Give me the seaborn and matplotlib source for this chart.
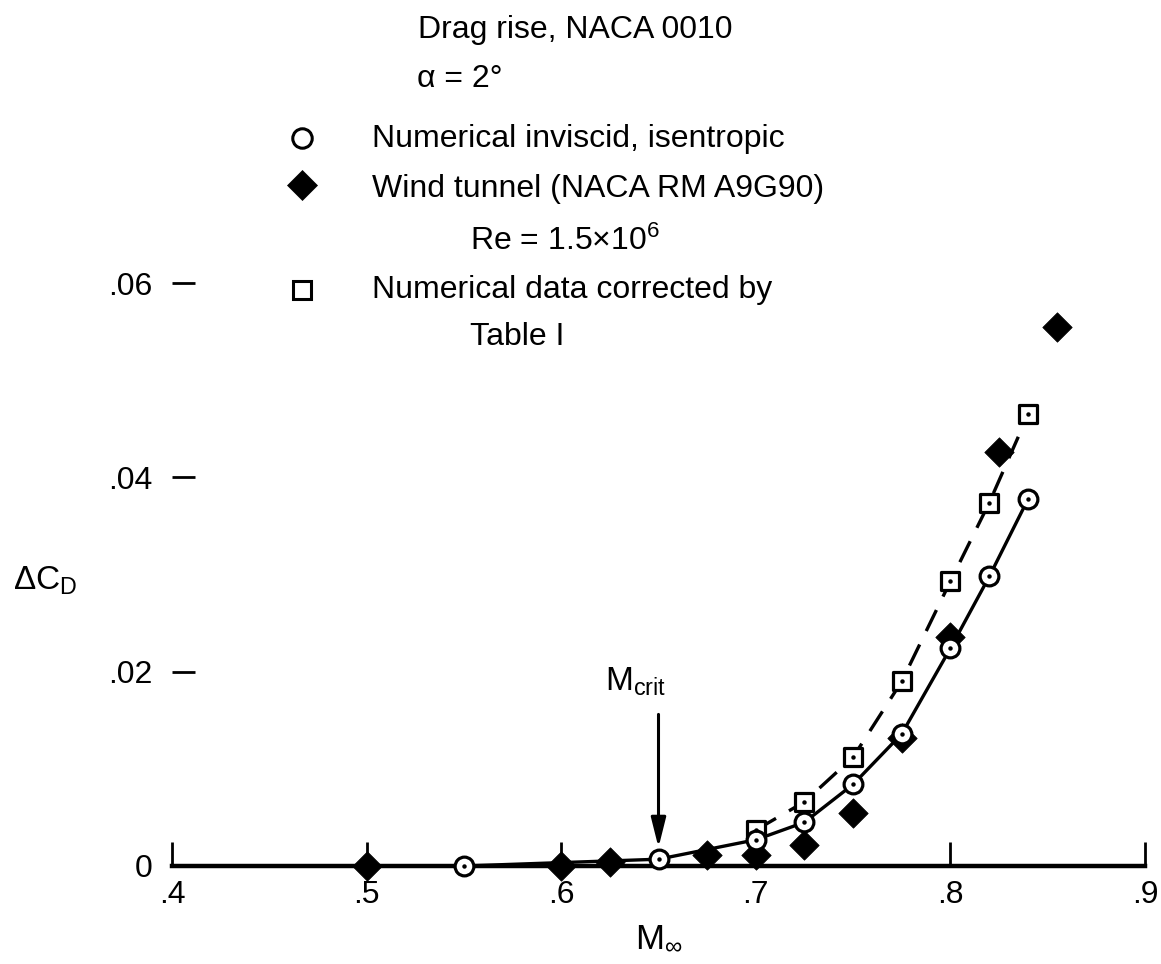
import matplotlib
matplotlib.use("Agg")
import matplotlib.pyplot as plt
from matplotlib.lines import Line2D
import numpy as np
import pandas as pd
import seaborn as sns

# ---- data ----
circ_x = [0.55, 0.65, 0.70, 0.725, 0.75, 0.775, 0.80, 0.82, 0.84]
circ_y = [0.0, 0.0007, 0.0027, 0.0045, 0.0084, 0.0136, 0.0224, 0.0298, 0.0378]

diam_x = [0.50, 0.60, 0.625, 0.675, 0.70, 0.725, 0.75, 0.775, 0.80, 0.825, 0.855]
diam_y = [0.0, 0.0, 0.0004, 0.0011, 0.0011, 0.0022, 0.0055, 0.0132, 0.0236, 0.0426, 0.0555]

sq_x = [0.70, 0.725, 0.75, 0.775, 0.80, 0.82, 0.84]
sq_y = [0.0037, 0.0066, 0.0112, 0.0190, 0.0293, 0.0374, 0.0465]

x_ticks = [0.4, 0.5, 0.6, 0.7, 0.8, 0.9]
x_tick_labels = [".4", ".5", ".6", ".7", ".8", ".9"]
y_ticks = [0.0, 0.02, 0.04, 0.06]
y_tick_labels = ["0", ".02", ".04", ".06"]

m_crit = 0.65

# ---- style ----
sns.set_theme(style="white")
plt.rcParams["font.family"] = ["Liberation Sans", "DejaVu Sans"]
plt.rcParams["mathtext.fontset"] = "custom"
plt.rcParams["mathtext.rm"] = "Liberation Sans"
plt.rcParams["mathtext.it"] = "Liberation Sans"
plt.rcParams["mathtext.default"] = "rm"
FS = 23
K = "black"

fig = plt.figure(figsize=(11.61, 9.64), dpi=100)
ax = fig.add_axes([0.14815, 0.10166, 0.83807, 0.60477])

circ = pd.DataFrame({"M": circ_x, "dCD": circ_y})
diam = pd.DataFrame({"M": diam_x, "dCD": diam_y})
sq = pd.DataFrame({"M": sq_x, "dCD": sq_y})

# curves
sns.lineplot(data=circ, x="M", y="dCD", ax=ax, color=K, lw=2.4,
             estimator=None, sort=True, zorder=2.6)
sns.lineplot(data=sq, x="M", y="dCD", ax=ax, color=K, lw=2.4,
             estimator=None, sort=True, linestyle=(0, (7, 4.5)), zorder=2.6)

# markers
sns.scatterplot(data=diam, x="M", y="dCD", ax=ax, marker="D", s=15**2,
                color=K, edgecolor=K, linewidth=0.5, zorder=3, clip_on=False)
sns.scatterplot(data=sq, x="M", y="dCD", ax=ax, marker="s", s=13.5**2,
                facecolor="white", edgecolor=K, linewidth=2.3, zorder=4, clip_on=False)
sns.scatterplot(data=circ, x="M", y="dCD", ax=ax, marker="o", s=13.5**2,
                facecolor="white", edgecolor=K, linewidth=2.3, zorder=5, clip_on=False)
sns.scatterplot(data=sq, x="M", y="dCD", ax=ax, marker="o", s=3.2**2,
                color=K, linewidth=0, zorder=6, clip_on=False)
sns.scatterplot(data=circ, x="M", y="dCD", ax=ax, marker="o", s=3.2**2,
                color=K, linewidth=0, zorder=6, clip_on=False)

# axes
ax.set_xlim(0.4, 0.9)
ax.set_ylim(0.0, 0.06)
ax.set_xticks(x_ticks)
ax.set_xticklabels(x_tick_labels)
ax.set_yticks(y_ticks)
ax.set_yticklabels(y_tick_labels)
sns.despine(ax=ax, left=True)
ax.spines["bottom"].set_linewidth(3.2)
ax.spines["bottom"].set_color(K)
ax.spines["bottom"].set_zorder(2.5)
ax.tick_params(axis="x", bottom=True, direction="in", length=17, width=2.0,
               pad=10, labelsize=FS, colors=K)
ax.tick_params(axis="y", left=True, direction="in", length=16.5, width=2.0,
               pad=14, labelsize=FS, colors=K)
ax.grid(False)

ax.set_xlabel(r"M$_{\infty}$", fontsize=25, color=K, va="center", ha="center")
ax.xaxis.set_label_coords(0.50, -0.122)
ax.set_ylabel(r"ΔC$_{\mathrm{D}}$", fontsize=24, color=K, rotation=0,
              va="center", ha="left")
ax.yaxis.set_label_coords(-0.163, 0.49)

# M_crit arrow
ax.annotate("", xy=(m_crit, 0.0019), xytext=(m_crit, 0.0156),
            arrowprops=dict(arrowstyle="-|>,head_length=0.6,head_width=0.15",
                            lw=2.2, color=K, mutation_scale=30,
                            shrinkA=0, shrinkB=0), zorder=7)
ax.text(0.6225, 0.0181, r"M$_{\mathrm{crit}}$", fontsize=24, color=K,
        ha="left", va="baseline")

# ---- title / legend block ----
def fx(px):
    return px / 1161.0

def fy(py):
    return 1.0 - py / 964.0

fig.text(fx(418), fy(38), "Drag rise, NACA 0010", fontsize=FS, color=K, va="baseline")
fig.text(fx(417), fy(87), "α = 2°", fontsize=FS, color=K, va="baseline")
fig.text(fx(372), fy(147), "Numerical inviscid, isentropic", fontsize=FS, color=K, va="baseline")
fig.text(fx(372), fy(197), "Wind tunnel (NACA RM A9G90)", fontsize=FS, color=K, va="baseline")
fig.text(fx(470), fy(250), r"Re = 1.5×10$^{6}$", fontsize=FS, color=K, va="baseline")
fig.text(fx(372), fy(298), "Numerical data corrected by", fontsize=FS, color=K, va="baseline")
fig.text(fx(470), fy(345), "Table I", fontsize=FS, color=K, va="baseline")

fig.add_artist(Line2D([fx(302)], [fy(138)], marker="o", ms=14, mfc="white",
                      mec=K, mew=2.2, transform=fig.transFigure))
fig.add_artist(Line2D([fx(302)], [fy(185)], marker="D", ms=15.5, mfc=K,
                      mec=K, mew=0.5, transform=fig.transFigure))
fig.add_artist(Line2D([fx(302)], [fy(290)], marker="s", ms=13.5, mfc="white",
                      mec=K, mew=2.2, transform=fig.transFigure))

fig.savefig("out.png", dpi=100, facecolor="white")
